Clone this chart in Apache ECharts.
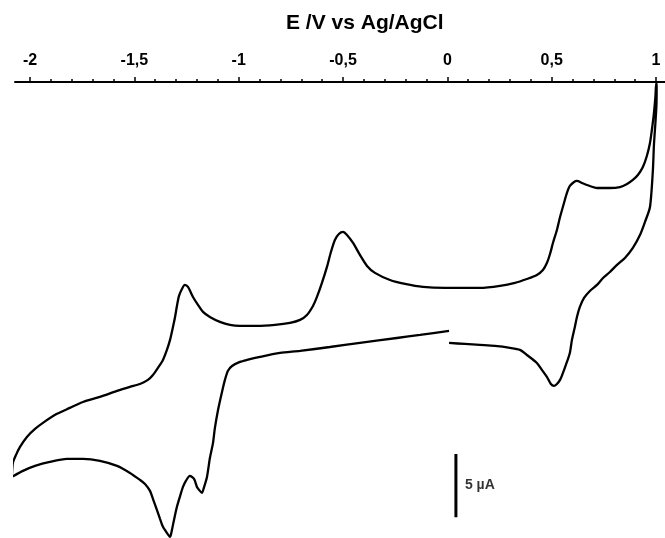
<!DOCTYPE html>
<html lang="en">
<head>
    <meta charset="UTF-8">
    <title>CV</title>
    <style>html, body { margin: 0; padding: 0; background: #fff; }</style>
</head>
<body>
<div id="cv_main" style="width: 665px;height:538px;"></div>
<script type="text/javascript" src="https://cdn.jsdelivr.net/npm/echarts/dist/echarts.min.js"></script>
<script>
    // potential E (V vs Ag/AgCl) and current I (uA)
    // sweep 1: 0 V -> -2 V
    var sweep1E = [0.010, -0.129, -0.240, -0.417, -0.561, -0.704, -0.800, -0.896, -0.958, -0.992,
        -1.030, -1.050, -1.064, -1.078, -1.097, -1.112, -1.121, -1.136, -1.150, -1.165,
        -1.174, -1.188, -1.198, -1.212, -1.232, -1.251, -1.265, -1.280, -1.294, -1.308,
        -1.318, -1.327, -1.342, -1.361, -1.375, -1.390, -1.409, -1.423, -1.447, -1.471,
        -1.519, -1.581, -1.663, -1.744, -1.821, -1.903, -1.974, -2.032, -2.085];
    var sweep1I = [-19.65, -19.97, -20.21, -20.60, -20.92, -21.23, -21.39, -21.70, -21.94, -22.10,
        -22.42, -22.81, -23.52, -24.47, -25.89, -27.31, -28.49, -29.68, -31.18, -32.04,
        -32.44, -32.20, -31.97, -31.33, -31.10, -31.49, -31.97, -32.75, -33.54, -34.57,
        -35.36, -35.91, -35.60, -35.12, -34.49, -33.78, -32.91, -32.28, -31.73, -31.41,
        -30.86, -30.31, -29.91, -29.76, -29.76, -29.99, -30.31, -30.70, -31.18];
    // sweep 2: -2 V -> 1 V
    var sweep2E = [-2.080, -2.065, -2.046, -2.013, -1.974, -1.936, -1.869, -1.807, -1.744, -1.663,
        -1.581, -1.519, -1.471, -1.433, -1.409, -1.385, -1.361, -1.342, -1.327, -1.313,
        -1.303, -1.294, -1.284, -1.270, -1.256, -1.241, -1.217, -1.193, -1.169, -1.136,
        -1.088, -1.040, -0.992, -0.911, -0.824, -0.752, -0.704, -0.671, -0.642, -0.623,
        -0.599, -0.575, -0.556, -0.537, -0.518, -0.498, -0.479, -0.450, -0.417, -0.383,
        -0.345, -0.273, -0.201, -0.115, -0.010, 0.077, 0.158, 0.254, 0.326, 0.383,
        0.431, 0.460, 0.479, 0.494, 0.508, 0.527, 0.542, 0.561, 0.575, 0.589,
        0.609, 0.623, 0.647, 0.671, 0.719, 0.781, 0.829, 0.863, 0.891, 0.915,
        0.939, 0.958, 0.973, 0.982, 0.992, 0.999, 1.003];
    var sweep2I = [-30.07, -29.44, -28.81, -28.02, -27.39, -26.91, -26.20, -25.73, -25.26, -24.86,
        -24.39, -24.07, -23.84, -23.52, -23.13, -22.57, -21.94, -21.15, -20.36, -19.34,
        -18.55, -17.68, -16.89, -16.34, -16.02, -16.18, -16.97, -17.60, -18.15, -18.55,
        -18.94, -19.18, -19.26, -19.26, -19.18, -19.02, -18.78, -18.39, -17.68, -16.97,
        -15.86, -14.60, -13.42, -12.47, -12.00, -11.84, -12.08, -12.71, -13.65, -14.52,
        -15.07, -15.63, -15.94, -16.18, -16.26, -16.26, -16.26, -16.10, -15.86, -15.55,
        -15.23, -14.84, -14.29, -13.58, -12.71, -11.68, -10.66, -9.55, -8.76, -8.21,
        -7.89, -7.81, -7.97, -8.13, -8.37, -8.37, -8.29, -8.05, -7.73, -7.34,
        -6.71, -5.84, -4.81, -3.79, -2.45, -1.18, -0.08];
    // sweep 3: 1 V -> 0 V
    var sweep3E = [1.005, 1.004, 1.000, 0.992, 0.987, 0.973, 0.949, 0.925, 0.891, 0.853,
        0.815, 0.781, 0.748, 0.719, 0.685, 0.657, 0.637, 0.623, 0.613, 0.599,
        0.589, 0.570, 0.556, 0.542, 0.527, 0.513, 0.498, 0.479, 0.455, 0.431,
        0.383, 0.350, 0.302, 0.230, 0.158, 0.086, 0.010];
    var sweep3I = [-0.40, -1.82, -3.00, -4.97, -6.95, -9.87, -11.05, -12.08, -13.10, -13.89,
        -14.44, -15.00, -15.47, -16.02, -16.50, -17.05, -17.76, -18.55, -19.34, -20.36,
        -21.39, -22.34, -22.97, -23.52, -23.84, -23.99, -23.84, -23.28, -22.73, -22.18,
        -21.55, -21.15, -20.99, -20.84, -20.76, -20.68, -20.60];

    // 5 uA scale bar
    var scaleBarE = [0.043, 0.043];
    var scaleBarI = [-29.36, -34.36];

    var xTickValues = [-2, -1.5, -1, -0.5, 0, 0.5, 1];
    var xTickLabels = ['-2', '-1,5', '-1', '-0,5', '0', '0,5', '1'];

    function zip(a, b) {
        var out = [];
        for (var i = 0; i < a.length; i++) out.push([a[i], b[i]]);
        return out;
    }

    var cvData = zip(sweep1E, sweep1I).concat(zip(sweep2E, sweep2I), zip(sweep3E, sweep3I));
    var barData = zip(scaleBarE, scaleBarI);

    var font = 'Liberation Sans, Arial, sans-serif';
    var myChart = echarts.init(document.getElementById('cv_main'));

    var option = {
        animation: false,
        backgroundColor: '#fff',
        title: {
            text: 'E /V vs Ag/AgCl',
            left: 286,
            top: 13,
            padding: 0,
            textStyle: { fontFamily: font, fontSize: 21, fontWeight: 'bold', color: '#000' }
        },
        grid: [
            { left: 15, right: 0, top: 82, bottom: 0 },   // data + axis line
            { left: 30, right: 9, top: 82, bottom: 0 }    // ticks from -2 to 1
        ],
        xAxis: [
            {
                gridIndex: 0, type: 'value', position: 'top',
                min: -2.07, max: 1.045,
                axisLine: { show: true, onZero: false, lineStyle: { color: '#000', width: 2 } },
                axisTick: { show: false },
                axisLabel: { show: false },
                splitLine: { show: false }
            },
            {
                gridIndex: 1, type: 'value', position: 'top',
                min: -2, max: 1, interval: 0.5,
                axisLine: { show: false, onZero: false },
                axisTick: { show: true, length: 5, lineStyle: { color: '#000', width: 1.5 } },
                minorTick: { show: true, splitNumber: 5, length: 3, lineStyle: { color: '#000', width: 1.5 } },
                axisLabel: {
                    margin: 13,
                    color: '#000',
                    fontFamily: font,
                    fontSize: 16,
                    fontWeight: 'bold',
                    formatter: function (v) {
                        for (var i = 0; i < xTickValues.length; i++) {
                            if (Math.abs(xTickValues[i] - v) < 1e-6) return xTickLabels[i];
                        }
                        return '';
                    }
                },
                splitLine: { show: false }
            }
        ],
        yAxis: [
            { gridIndex: 0, type: 'value', min: -36, max: 0, show: false },
            { gridIndex: 1, type: 'value', min: 0, max: 1, show: false }
        ],
        series: [
            {
                name: 'CV',
                type: 'line',
                xAxisIndex: 0, yAxisIndex: 0,
                data: cvData,
                showSymbol: false,
                symbol: 'none',
                smooth: 0.25,
                clip: false,
                lineStyle: { color: '#000', width: 2.3 }
            },
            {
                name: 'scale',
                type: 'line',
                xAxisIndex: 0, yAxisIndex: 0,
                data: barData,
                symbol: 'none',
                lineStyle: { color: '#000', width: 3 }
            },
            {
                name: 'scaleLabel',
                type: 'scatter',
                xAxisIndex: 0, yAxisIndex: 0,
                data: [[scaleBarE[0], (scaleBarI[0] + scaleBarI[1]) / 2]],
                symbolSize: 0,
                label: {
                    show: true, position: 'right', distance: 9,
                    formatter: '5 µA',
                    color: '#000', fontFamily: font, fontSize: 14, fontWeight: 'bold'
                }
            }
        ]
    };

    myChart.setOption(option);
</script>
</body>
</html>
